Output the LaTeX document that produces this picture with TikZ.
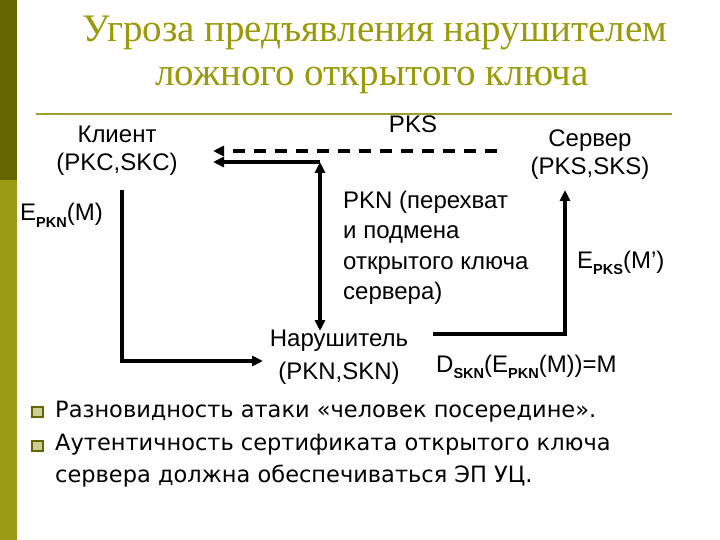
\documentclass[tikz,border=0pt]{standalone}
\usepackage{fontspec}
\setmainfont{Liberation Sans}
\newfontfamily\titlefont{Liberation Serif}
\newfontfamily\bulfont{DejaVu Sans}
\usetikzlibrary{arrows.meta}
\definecolor{olivedark}{RGB}{102,102,0}
\definecolor{olivelight}{RGB}{156,156,20}
\definecolor{titlecol}{RGB}{153,153,10}
\definecolor{rulecol}{RGB}{160,160,50}
\definecolor{bulfill}{RGB}{205,205,150}
\newcommand\sbx[1]{\raisebox{-0.28em}{\fontsize{14.5}{14.5}\selectfont\bfseries #1}}
\tikzset{
  lbl/.style={inner sep=0pt, font=\fontsize{24}{28}\selectfont},
  conn/.style={line width=3.6pt, black, line join=miter},
  tip/.style={-{Triangle[length=11pt,width=10pt]}},
  bitip/.style={{Triangle[length=11pt,width=10pt]}-{Triangle[length=11pt,width=10pt]}},
  bullbox/.style={draw=olivedark, fill=bulfill, line width=2.2pt, minimum size=10.5pt, inner sep=0pt},
  bultext/.style={inner sep=0pt, align=left, font=\bulfont\fontsize{22.5}{32.5}\selectfont}
}
\begin{document}
\begin{tikzpicture}[x=1pt,y=-1pt]
\useasboundingbox (0,0) rectangle (720,540);
% side bar
\fill[olivedark] (0,0) rectangle (17,180);
\fill[olivelight] (0,180) rectangle (17,540);
% title
\node[inner sep=0pt, anchor=base, text=titlecol, font=\titlefont\fontsize{39}{44}\selectfont] (t1) at (375,42) {Угроза предъявления нарушителем};
\node[inner sep=0pt, anchor=base, text=titlecol, font=\titlefont\fontsize{39}{44}\selectfont] (t2) at (372,86) {ложного открытого ключа};
\draw[rulecol, line width=2.2pt] (36,114) -- (672,114);
% nodes
\node[lbl, align=center] (client) at (117,151) {Клиент\\(PKC,SKC)};
\node[lbl, align=center] (server) at (590,155) {Сервер\\(PKS,SKS)};
\node[lbl, align=center, font=\fontsize{24}{33}\selectfont] (intr) at (339,357) {Нарушитель\\(PKN,SKN)};
\node[lbl, anchor=base] (pks) at (413,133) {PKS};
\node[lbl, anchor=base west] (epkn) at (20,221) {E\sbx{PKN}(M)};
\node[lbl, anchor=west, align=left, font=\fontsize{24}{30.5}\selectfont] (pknlbl) at (343,248) {PKN (перехват\\и подмена\\открытого ключа\\сервера)};
\node[lbl, anchor=base west] (epks) at (577,268) {E\sbx{PKS}(M{\char39})};
\node[lbl, anchor=base west] (dskn) at (436,372) {D\sbx{SKN}(E\sbx{PKN}(M))=M};
% connector points
\coordinate (dA) at (497,151);
\coordinate (dB) at (213,151);
\coordinate (sA) at (320,162);
\coordinate (sB) at (213,162);
\coordinate (vB) at (320,331);
\coordinate (cA) at (122,190);
\coordinate (cB) at (263,361);
\coordinate (rA) at (433,334);
\coordinate (rB) at (565,190);
% connectors
\draw[conn, tip, dash pattern=on 12pt off 9pt] (dA) -- (dB);
\draw[conn, tip] (sA) -- (sB);
\draw[conn, bitip] (sA) -- (vB);
\draw[conn, tip] (cA) |- (cB);
\draw[conn, tip] (rA) -| (rB);
% bullets
\node[bullbox] (b1) at (37.5,412) {};
\node[bullbox] (b2) at (37.5,446) {};
\node[bultext, anchor=base west] (bt1) at (55,417) {Разновидность атаки «человек посередине».};
\node[bultext, anchor=base west] (bt2) at (55,482.5) {Аутентичность сертификата открытого ключа\\сервера должна обеспечиваться ЭП УЦ.};
\end{tikzpicture}
\end{document}
